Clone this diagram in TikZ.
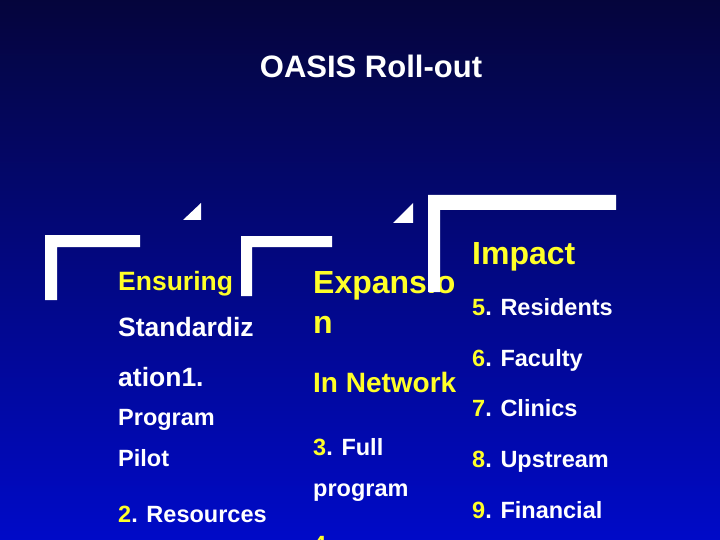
\documentclass[tikz,border=0pt]{standalone}
\usepackage{fontspec}
\setmainfont{Liberation Sans}
\begin{document}
\begin{tikzpicture}[x=1pt,y=-1pt,
  t/.style={anchor=base west,inner sep=0pt,font=\bfseries\fontsize{23.5}{26}\selectfont,text=white},
  yt/.style={t,text=ylw},
  bar/.style={fill=white,draw=none}]
\definecolor{ylw}{RGB}{255,255,40}
\definecolor{topc}{RGB}{5,5,60}
\definecolor{botc}{RGB}{0,10,200}
\useasboundingbox (0,0) rectangle (720,540);
\shade[top color=topc,bottom color=botc] (0,0) rectangle (720,540);
\begin{scope}
\clip (0,0) rectangle (720,540);
\node[anchor=base,inner sep=0pt,font=\bfseries\fontsize{31}{34}\selectfont,text=white] (title) at (371,78) {OASIS Roll-out};
% column 1
\node[yt,font=\bfseries\fontsize{26.5}{30}\selectfont] (a1) at (118,290) {Ensuring};
\node[t,font=\bfseries\fontsize{26.5}{30}\selectfont] (a2) at (118,336) {Standardiz};
\node[t,font=\bfseries\fontsize{26.5}{30}\selectfont] (a3) at (118,386) {ation1.};
\node[t] (a4) at (118,425) {Program};
\node[t] (a5) at (118,466) {Pilot};
\node[t] (a6) at (118,522) {\textcolor{ylw}{2}. Resources};
% column 2
\node[yt,font=\bfseries\fontsize{32}{34}\selectfont] (b1) at (313,293) {Expansio};
\node[yt,font=\bfseries\fontsize{32}{34}\selectfont] (b2) at (313,333) {n};
\node[yt,font=\bfseries\fontsize{28}{30}\selectfont] (b3) at (313,392) {In Network};
\node[t] (b4) at (313,455) {\textcolor{ylw}{3}. Full};
\node[t] (b5) at (313,496) {program};
\node[t] (b6) at (313,552) {\textcolor{ylw}{4}.};
% column 3
\node[yt,font=\bfseries\fontsize{32}{34}\selectfont] (c0) at (472,264) {Impact};
\node[t] (c1) at (472,315) {\textcolor{ylw}{5}. Residents};
\node[t] (c2) at (472,366) {\textcolor{ylw}{6}. Faculty};
\node[t] (c3) at (472,416) {\textcolor{ylw}{7}. Clinics};
\node[t] (c4) at (472,467) {\textcolor{ylw}{8}. Upstream};
\node[t] (c5) at (472,518) {\textcolor{ylw}{9}. Financial};
% brackets (drawn over text)
\fill[bar] (45,235) rectangle (57,300) (45,235) rectangle (140,247);
\fill[bar] (183,220) -- (201,220) -- (201,203) -- cycle;
\fill[bar] (241,236) rectangle (252,296) (241,236) rectangle (332,247);
\fill[bar] (393,223) -- (413,223) -- (413,203) -- cycle;
\fill[bar] (428,195) rectangle (440,292) (428,195) rectangle (616,210);
\end{scope}
\end{tikzpicture}
\end{document}
